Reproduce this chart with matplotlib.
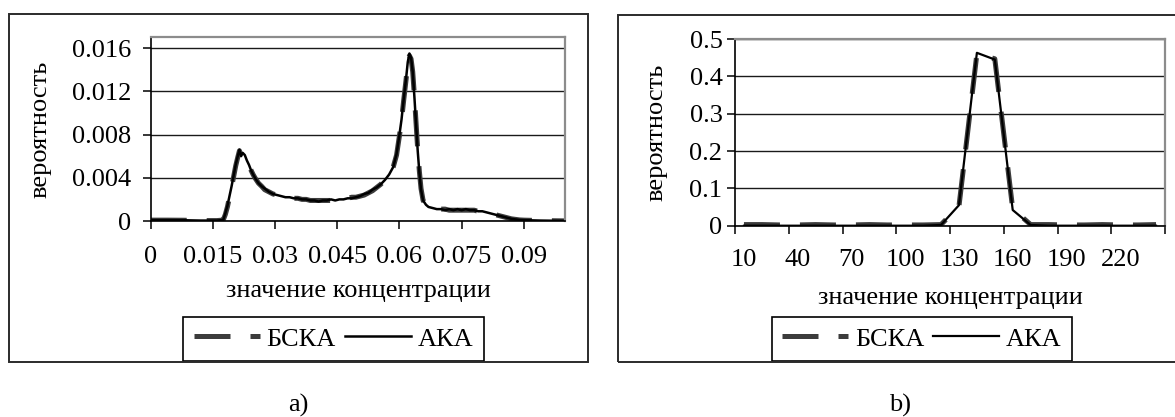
import matplotlib.pyplot as plt
from matplotlib.patches import Rectangle
import numpy as np

plt.rcParams['font.family'] = ['Liberation Serif', 'DejaVu Serif']

# ---- panel a) : concentration 0 .. 0.1
conc_a = [0.000, 0.004, 0.008, 0.012, 0.016, 0.0170, 0.0175, 0.0180, 0.0185, 0.0190,
          0.0195, 0.0200, 0.0205, 0.0210, 0.0214, 0.0218, 0.0222, 0.0227, 0.0232, 0.0237,
          0.0242, 0.0247, 0.0253, 0.0260, 0.0268, 0.0275, 0.0285, 0.0295, 0.0305, 0.0315,
          0.0325, 0.0335, 0.0345, 0.0355, 0.0365, 0.0375, 0.0385, 0.0395, 0.0405, 0.0415,
          0.0425, 0.0435, 0.0445, 0.0455, 0.0465, 0.0475, 0.0485, 0.0495, 0.0505, 0.0515,
          0.0525, 0.0535, 0.0545, 0.0555, 0.0565, 0.0575, 0.0585, 0.0593, 0.0600, 0.0605,
          0.0610, 0.0616, 0.0620, 0.0624, 0.0628, 0.0632, 0.0636, 0.0640, 0.0644, 0.0648,
          0.0652, 0.0657, 0.0664, 0.0670, 0.0680, 0.0690, 0.0700, 0.0710, 0.0720, 0.0730,
          0.0740, 0.0750, 0.0760, 0.0770, 0.0780, 0.0790, 0.0800, 0.0810, 0.0820, 0.0830,
          0.0840, 0.0850, 0.0860, 0.0870, 0.0880, 0.0890, 0.0900, 0.0920, 0.0940, 0.0960,
          0.0980, 0.1000]
aka_a = [0.00008, 0.00008, 0.00007, 0.00004, 0.00004, 0.00008, 0.0001, 0.0007, 0.0014, 0.0023,
         0.0032, 0.0042, 0.0052, 0.0060, 0.0066, 0.0060, 0.0063, 0.0061, 0.0056, 0.0052,
         0.0047, 0.0043, 0.0039, 0.0035, 0.0032, 0.0030, 0.0027, 0.0025, 0.0024, 0.0023,
         0.0022, 0.0022, 0.0021, 0.0021, 0.0020, 0.0020, 0.0019, 0.0019, 0.0018, 0.0019,
         0.0019, 0.0020, 0.0019, 0.0020, 0.0020, 0.0021, 0.0021, 0.0022, 0.0023, 0.0025,
         0.0026, 0.0029, 0.0031, 0.0034, 0.0038, 0.0043, 0.0050, 0.0062, 0.0080, 0.0094,
         0.0112, 0.0132, 0.0147, 0.0155, 0.0151, 0.0138, 0.0115, 0.0090, 0.0065, 0.0045,
         0.0029, 0.0019, 0.0015, 0.0013, 0.0012, 0.0011, 0.0011, 0.0010, 0.0011, 0.0010,
         0.0011, 0.0010, 0.0011, 0.0010, 0.0010, 0.0009, 0.0009, 0.0008, 0.0007, 0.0006,
         0.0005, 0.0004, 0.0003, 0.0002, 0.00015, 0.0001, 0.00008, 0.00006, 0.00004, 0.00003,
         0.00002, 0.00001]
bska_a = [0.00008, 0.00008, 0.00007, 0.00004, 0.00004, 0.00007, 0.0001, 0.0006, 0.0013, 0.0022,
          0.0031, 0.0041, 0.0051, 0.0059, 0.0065, 0.0061, 0.0062, 0.0060, 0.0057, 0.0052,
          0.0047, 0.0043, 0.0039, 0.0035, 0.0032, 0.0029, 0.0027, 0.0025, 0.0024, 0.0023,
          0.0022, 0.0021, 0.0021, 0.0021, 0.0020, 0.0020, 0.0019, 0.0019, 0.0019, 0.0019,
          0.0019, 0.0019, 0.0020, 0.0020, 0.0020, 0.0021, 0.0022, 0.0022, 0.0023, 0.0024,
          0.0026, 0.0028, 0.0031, 0.0034, 0.0038, 0.0043, 0.0050, 0.0061, 0.0079, 0.0093,
          0.0111, 0.0131, 0.0146, 0.0153, 0.0150, 0.0138, 0.0116, 0.0091, 0.0066, 0.0046,
          0.0030, 0.0019, 0.0015, 0.0013, 0.0012, 0.0011, 0.0011, 0.0011, 0.0010, 0.0010,
          0.0010, 0.0010, 0.0010, 0.0010, 0.0010, 0.0009, 0.0009, 0.0008, 0.0007, 0.0006,
          0.0005, 0.0004, 0.0003, 0.0002, 0.00015, 0.0001, 0.00008, 0.00006, 0.00004, 0.00003,
          0.00002, 0.00001]
ticks_a = [0, 0.015, 0.03, 0.045, 0.06, 0.075, 0.09]
tick_labels_a = ['0', '0.015', '0.03', '0.045', '0.06', '0.075', '0.09']
yticks_a = [0, 0.004, 0.008, 0.012, 0.016]
ytick_labels_a = ['0', '0.004', '0.008', '0.012', '0.016']

# ---- panel b) : categories 10 .. 240
cats_b = [10, 20, 30, 40, 50, 60, 70, 80, 90, 100, 110, 120,
          130, 140, 150, 160, 170, 180, 190, 200, 210, 220, 230, 240]
aka_b = [0, 0, 0, 0, 0, 0, 0, 0, 0, 0, 0, 0.002,
         0.055, 0.463, 0.445, 0.042, 0.002, 0, 0, 0, 0, 0, 0, 0]
bska_b = [0.003, 0.003, 0.002, 0.002, 0.003, 0.002, 0.002, 0.003, 0.002, 0.002, 0.002, 0.003,
          0.052, 0.460, 0.447, 0.045, 0.003, 0.003, 0.002, 0.002, 0.003, 0.002, 0.002, 0.003]
yticks_b = [0, 0.1, 0.2, 0.3, 0.4, 0.5]
ytick_labels_b = ['0', '0.1', '0.2', '0.3', '0.4', '0.5']

FS = 19
DASH = (7.2, 4)
W, H = 1175, 417

fig = plt.figure(figsize=(11.75, 4.17), dpi=100)


def px_rect(x0, y0, x1, y1):
    # pixel box (top-left origin) -> figure fraction [l, b, w, h]
    return [x0 / W, 1 - y1 / H, (x1 - x0) / W, (y1 - y0) / H]


def style_axes(ax, ylabel_pad):
    for s in ['top', 'right']:
        ax.spines[s].set_color('#8c8c8c')
        ax.spines[s].set_linewidth(1.6)
    for s in ['left', 'bottom']:
        ax.spines[s].set_color('black')
        ax.spines[s].set_linewidth(1.2)
    ax.yaxis.grid(True, color='#1a1a1a', linewidth=1.0)
    ax.set_axisbelow(True)
    ax.tick_params(axis='both', which='major', direction='out', length=6,
                   width=1.1, labelsize=FS, colors='black')
    ax.tick_params(axis='y', pad=ylabel_pad)


# outer frames
fig.patches.append(Rectangle((9 / W, 1 - 361.7 / H), 579 / W, 347.7 / H,
                             transform=fig.transFigure, fill=False,
                             edgecolor='#2b2b2b', linewidth=1.4, zorder=5))
fig.patches.append(Rectangle((618.3 / W, 1 - 361.7 / H), 570 / W, 346.7 / H,
                             transform=fig.transFigure, fill=False,
                             edgecolor='#2b2b2b', linewidth=1.4, zorder=5))

# ---------------- panel a
ax1 = fig.add_axes(px_rect(150.7, 37.3, 565.3, 221))
ax1.plot(conc_a, bska_a, color='#3c3c3c', linewidth=3.6, dashes=DASH,
         dash_capstyle='butt', label='БСКА')
ax1.plot(conc_a, aka_a, color='black', linewidth=1.8, label='АКА')
ax1.set_xlim(0, 0.1)
ax1.set_ylim(0, 0.017)
ax1.set_xticks(ticks_a)
ax1.set_xticklabels(tick_labels_a)
ax1.set_yticks(yticks_a)
ax1.set_yticklabels(ytick_labels_a)
style_axes(ax1, 8)
ax1.tick_params(axis='x', pad=12)
ax1.set_xlabel('значение концентрации', fontsize=FS, labelpad=9)
ax1.set_ylabel('вероятность', fontsize=FS, labelpad=15)

# ---------------- panel b
pos_b = np.arange(len(cats_b)) + 0.5
ax2 = fig.add_axes(px_rect(735, 39, 1165, 225.7))
ax2.plot(pos_b, bska_b, color='#3c3c3c', linewidth=3.6, dashes=DASH,
         dash_capstyle='butt', label='БСКА')
ax2.plot(pos_b, aka_b, color='black', linewidth=1.6, label='АКА')
ax2.set_xlim(0, len(cats_b))
ax2.set_ylim(0, 0.5)
ax2.set_xticks(np.arange(0, len(cats_b) + 1, 3))
ax2.set_xticklabels([])
ax2.set_xticks(pos_b[::3], minor=True)
ax2.set_xticklabels([str(c) for c in cats_b[::3]], minor=True)
ax2.set_yticks(yticks_b)
ax2.set_yticklabels(ytick_labels_b)
style_axes(ax2, 3)
ax2.tick_params(axis='x', which='minor', length=0, labelsize=FS, pad=17)
ax2.set_xlabel('значение концентрации', fontsize=FS, labelpad=11)
ax2.set_ylabel('вероятность', fontsize=FS, labelpad=16)

# legends
for ax, lx in [(ax1, 183.3), (ax2, 771.7)]:
    leg = ax.legend(loc='upper left', bbox_to_anchor=(lx / W, 1 - 316.7 / H),
                    bbox_transform=fig.transFigure, ncol=2, fontsize=FS,
                    frameon=True, fancybox=False, framealpha=1, edgecolor='black',
                    borderpad=0.4, borderaxespad=0, handlelength=2.5,
                    handletextpad=0.25, columnspacing=0.35)
    leg.get_frame().set_linewidth(1.2)

fig.text(298.5 / W, 1 - 405 / H, 'a)', fontsize=FS, ha='center', va='center')
fig.text(899.7 / W, 1 - 405 / H, 'b)', fontsize=FS, ha='center', va='center')

fig.savefig('out.png', dpi=100)
